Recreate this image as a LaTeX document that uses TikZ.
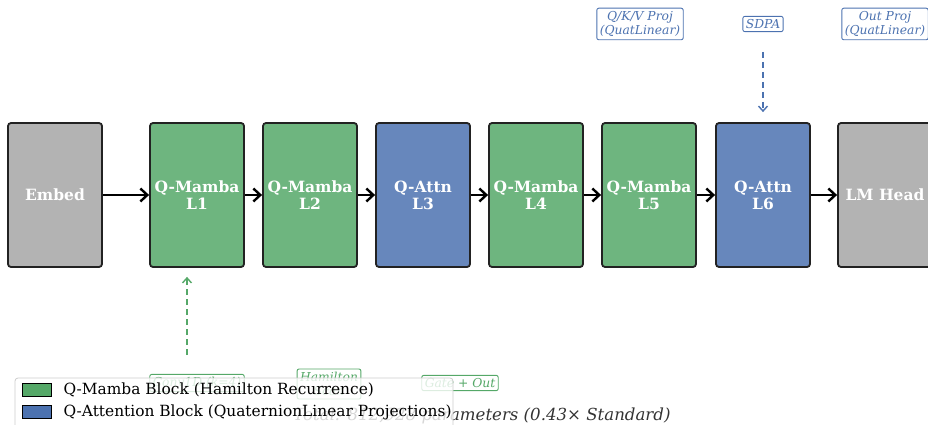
\documentclass[tikz,border=0pt]{standalone}
\usepackage{fontspec}
\setmainfont{DejaVu Serif}
\usetikzlibrary{positioning,arrows.meta}

\definecolor{mambagreen}{HTML}{55A868}
\definecolor{attnblue}{HTML}{4C72B0}
\definecolor{iogray}{HTML}{B3B3B3}
\definecolor{edgedark}{HTML}{222222}

\begin{document}
\begin{tikzpicture}[x=1pt, y=-1pt,
    block/.style   = {rectangle, rounded corners=3pt, draw=edgedark, line width=1.8pt,
                      minimum width=94pt, minimum height=144pt, align=center, text=white,
                      font=\fontsize{15.5}{17}\selectfont\bfseries},
    io/.style      = {block, fill=iogray},
    mamba/.style   = {block, fill=mambagreen!85!white},
    attn/.style    = {block, fill=attnblue!85!white},
    flow/.style    = {-{Straight Barb[length=7pt, width=13pt]}, line width=2.4pt, black},
    note/.style    = {rectangle, rounded corners=2pt, fill=white, line width=0.9pt, align=center,
                      inner sep=3pt, font=\fontsize{12.3}{14.5}\selectfont\itshape},
    anote/.style   = {note, draw=attnblue, text=attnblue},
    mnote/.style   = {note, draw=mambagreen, text=mambagreen},
    hint/.style    = {-{Straight Barb[length=5pt, width=9pt]}, line width=1.4pt,
                      dash pattern=on 6pt off 4pt},
    patch/.style   = {rectangle, draw=black, line width=1.2pt, minimum width=29pt,
                      minimum height=13pt, inner sep=0pt},
    legtext/.style = {anchor=west, font=\fontsize{15.4}{17}\selectfont},
]
\useasboundingbox (0,0) rectangle (928,425);
\clip (0,0) rectangle (928,425);

% --- layer stack ---
\node[io]    (embed) at (55, 195)  {Embed};
\node[mamba] (l1)    at (197, 195) {Q-Mamba\\L1};
\node[mamba] (l2)    at (310, 195) {Q-Mamba\\L2};
\node[attn]  (l3)    at (423, 195) {Q-Attn\\L3};
\node[mamba] (l4)    at (536, 195) {Q-Mamba\\L4};
\node[mamba] (l5)    at (649, 195) {Q-Mamba\\L5};
\node[attn]  (l6)    at (763, 195) {Q-Attn\\L6};
\node[io]    (head)  at (885, 195) {LM Head};

\draw[flow] (embed) -- (l1);
\draw[flow] (l1) -- (l2);
\draw[flow] (l2) -- (l3);
\draw[flow] (l3) -- (l4);
\draw[flow] (l4) -- (l5);
\draw[flow] (l5) -- (l6);
\draw[flow] (l6) -- (head);

% --- attention internals (top) ---
\node[anote] (qkv)     at (640, 24) {Q/K/V Proj\\(QuatLinear)};
\node[anote] (sdpa)    at (763, 24) {SDPA};
\node[anote] (outproj) at (885, 24) {Out Proj\\(QuatLinear)};

\coordinate (sdpatail) at (763, 52);
\draw[hint, attnblue, shorten >=10pt] (sdpatail) -- (l6);

% --- mamba internals (bottom) ---
\node[mnote] (conv)  at (197, 383) {Conv1D (k=4)};
\node[mnote] (scan)  at (329, 384) {Hamilton\\Scan};
\node[mnote] (gate)  at (460, 383) {Gate + Out};

\coordinate (convtail) at (187, 355);
\draw[hint, mambagreen, shorten >=9pt] (convtail) -- (convtail |- l1.south);

\node[font=\fontsize{16.6}{18}\selectfont\itshape, text=black!80] (total) at (482, 416)
    {Total: 812,928 parameters (0.43× Standard)};

% --- legend ---
\draw[draw=black!20, fill=white, fill opacity=0.8, rounded corners=3pt, line width=0.8pt]
    (15, 378) rectangle (453, 434);
\node[patch, fill=mambagreen] (lgm) at (37, 390) {};
\node[legtext] at (60, 390) {Q-Mamba Block (Hamilton Recurrence)};
\node[patch, fill=attnblue] (lga) at (37, 412) {};
\node[legtext] at (60, 412) {Q-Attention Block (QuaternionLinear Projections)};

\end{tikzpicture}
\end{document}
